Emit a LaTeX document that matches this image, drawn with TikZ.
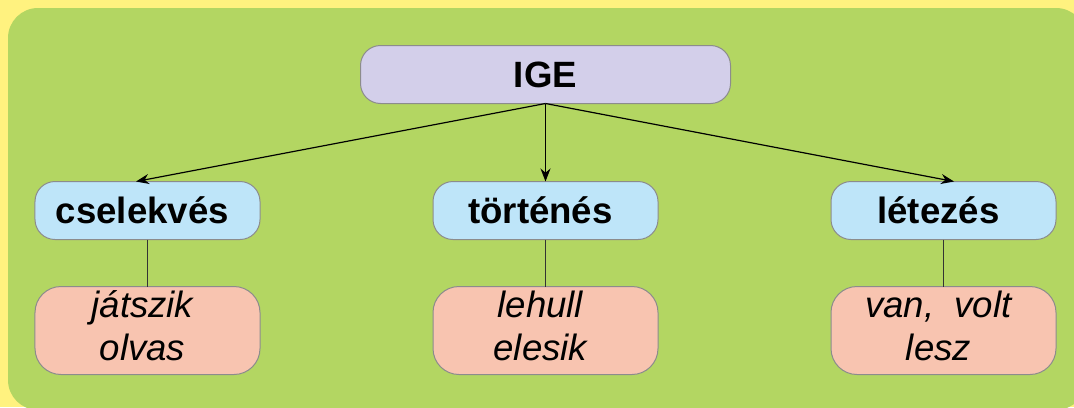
\documentclass[tikz,border=0pt]{standalone}
\usepackage{fontspec}
\setmainfont{Liberation Sans}
\usetikzlibrary{matrix,arrows.meta,positioning}
\definecolor{pagebg}{HTML}{FFF27F}
\definecolor{panel}{HTML}{B3D662}
\definecolor{topfill}{HTML}{D3CFEA}
\definecolor{kindfill}{HTML}{BEE5F9}
\definecolor{examplefill}{HTML}{F8C4B0}
\definecolor{boxline}{HTML}{8C8C8C}
\newcommand{\twolines}[2]{\begin{tabular}{@{}c@{}}#1\\#2\end{tabular}}
\tikzset{
  box/.style={draw=boxline, line width=0.5pt, align=center, inner sep=0pt, outer sep=0pt},
  rootbox/.style={box, fill=topfill, rounded corners=10pt, minimum width=185pt, minimum height=29pt, font=\fontsize{18.3}{21.5}\selectfont\bfseries},
  kindbox/.style={box, fill=kindfill, rounded corners=10pt, minimum width=112.5pt, minimum height=29pt, font=\fontsize{18.3}{21.5}\selectfont\bfseries},
  examplebox/.style={box, fill=examplefill, rounded corners=13pt, minimum width=112.5pt, minimum height=44pt, font=\fontsize{18.3}{21.5}\selectfont\itshape},
}

\begin{document}
\begin{tikzpicture}[x=0.5pt, y=-0.5pt]
\clip (0,0) rectangle (1074,407);
\fill[pagebg] (0,0) rectangle (1074,407);
\fill[panel, rounded corners=15pt] (8,8) rectangle (1086,410);
\matrix (m) [matrix of nodes, row sep=23pt, column sep=86pt, inner sep=0pt, outer sep=0pt, anchor=north,
  row 1/.style={nodes=kindbox}, row 2/.style={nodes=examplebox}] at (545.5,181)
{
	cselekvés & történés & létezés \\
	\twolines{játszik}{olvas} & \twolines{lehull}{elesik} & \twolines{van,\ \ volt}{lesz} \\
};
\node[rootbox, above=39pt of m-1-2] (ige) {IGE};
\path[-{Stealth[length=6.5pt,width=5pt]}, line width=0.6pt]
(ige.south) edge ([xshift=-5.75pt]m-1-1.north)
edge (m-1-2.north)
edge ([xshift=5.25pt]m-1-3.north)
;
\path[draw=black!80, line width=0.5pt]
(m-1-1) edge (m-2-1)
(m-1-2) edge (m-2-2)
(m-1-3) edge (m-2-3)
;
\end{tikzpicture}
\end{document}
